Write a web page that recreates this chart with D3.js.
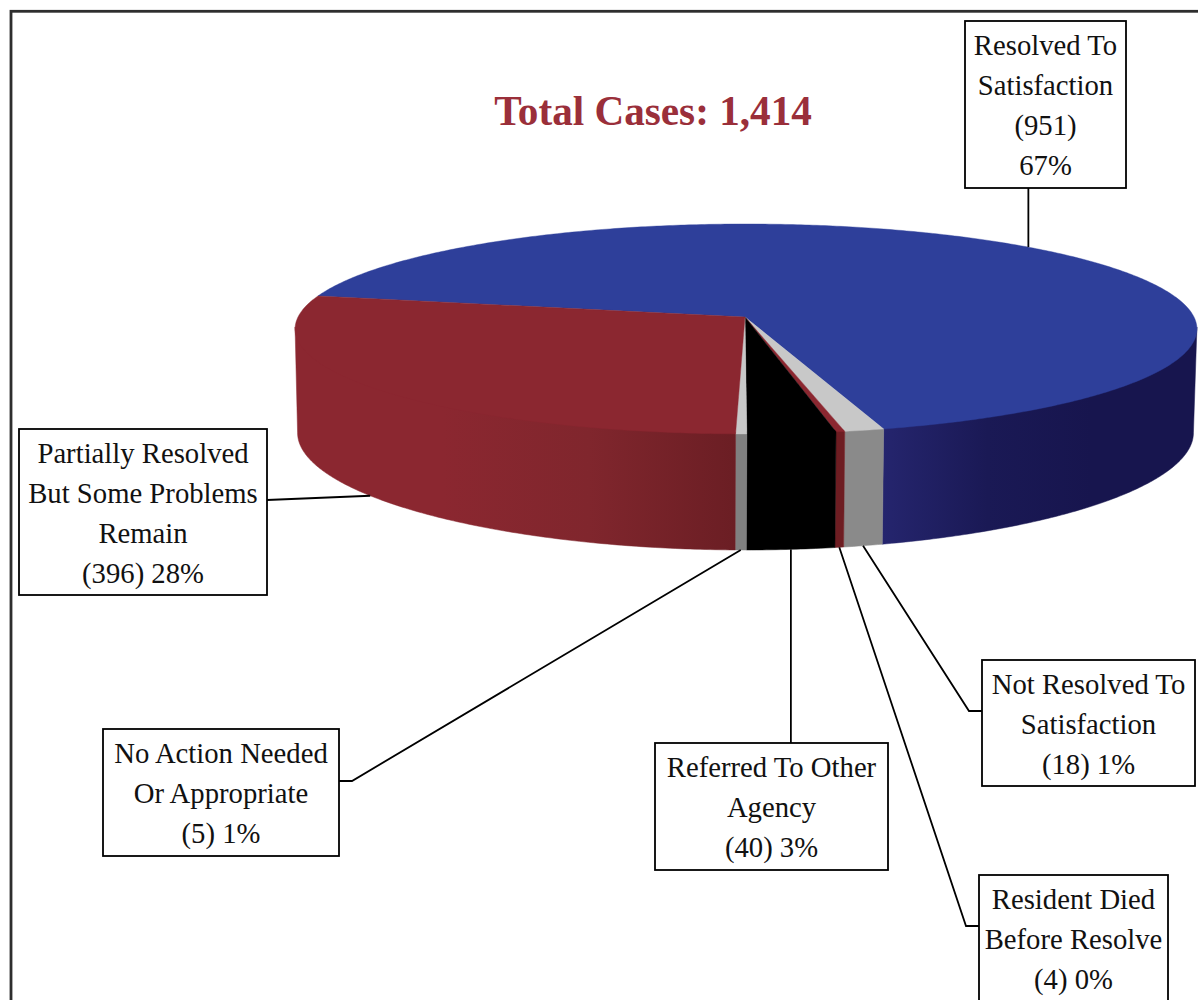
<!DOCTYPE html>
<html>
<head>
<meta charset="utf-8">
<script src="https://cdn.jsdelivr.net/npm/d3@7"></script>
<style>
  body { margin: 0; background: #fff; }
  svg { display: block; }
  text { font-family: "Liberation Serif", serif; }
</style>
</head>
<body>
<div id="chart"></div>
<script>
// data, clockwise from the blue slice
const categories = ["Resolved To Satisfaction", "Not Resolved To Satisfaction", "Resident Died Before Resolve",
  "Referred To Other Agency", "No Action Needed Or Appropriate", "Partially Resolved But Some Problems Remain"];
const counts = [951, 18, 4, 40, 5, 396];
const labelLines = [
  ["Resolved To", "Satisfaction", "(951)", "67%"],
  ["Not Resolved To", "Satisfaction", "(18) 1%"],
  ["Resident Died", "Before Resolve", "(4) 0%"],
  ["Referred To Other", "Agency", "(40) 3%"],
  ["No Action Needed", "Or Appropriate", "(5) 1%"],
  ["Partially Resolved", "But Some Problems", "Remain", "(396) 28%"]
];
const titleText = "Total Cases: 1,414";

// styles
const topColors = ["#2e3f9a", "#c8c8c8", "#8b2730", "#000000", "#c8c8c8", "#8b2730"];
// stops are spaced evenly along each wall, left to right
const wallColors = [
  ["#25256e", "#1a1955", "#17154e", "#17154e"],
  ["#8a8a8a", "#8a8a8a"],
  ["#6e1d22", "#6e1d22"],
  ["#000000", "#000000"],
  ["#808080", "#808080"],
  ["#8b2730", "#8b2730", "#80262d", "#6b1e24"]
];

// label boxes: x, y, w, h, and the elbow of the leader if it has one
const boxes = [
  {x: 965, y: 21, w: 161, h: 167, side: "bottom"},
  {x: 982, y: 660, w: 213, h: 126, side: "left", lineY: 711, elbow: 969},
  {x: 979, y: 875, w: 189, h: 130, side: "left", lineY: 926, elbow: 966},
  {x: 655, y: 743, w: 233, h: 127, side: "top"},
  {x: 103, y: 729, w: 236, h: 127, side: "right", lineY: 781, elbow: 352},
  {x: 19, y: 429, w: 248, h: 166, side: "right", lineY: 500}
];

const width = 1198;
const height = 1000;

// pie geometry, fitted to the picture
const apex = {x: 745, y: 317};
const persp = 0.114; // near rim is drawn larger than far rim
const rimTop = {cx: 746, cy: 317, rx: 448, ry: 103.6, k: 0.114};
const rimBase = {cx: 745.5, cy: 420.1, rx: 445, ry: 110.4, k: 0.15};

const project = (angle, rim) => {
  const X = Math.sin(angle);
  const Y = -Math.cos(angle); // positive toward the viewer
  return [rim.cx + rim.rx * X / (1 - persp * Y), rim.cy + rim.ry * Y / (1 - rim.k * Y)];
};

const arcAngles = (a0, a1) => {
  const n = Math.max(2, Math.ceil((a1 - a0) / 0.01));
  return d3.range(n + 1).map(i => a0 + (a1 - a0) * i / n);
};

const rad = d => d * Math.PI / 180;

const pie = d3.pie().sort(null).value(d => d)
  .startAngle(rad(282)).endAngle(rad(282) + 2 * Math.PI);
const slices = pie(counts);

const line = d3.line();

const svg = d3.select("#chart").append("svg")
  .attr("width", width)
  .attr("height", height);

const defs = svg.append("defs");

// outer frame runs off the page on the right and bottom
svg.append("rect")
  .attr("x", 11).attr("y", 11.3)
  .attr("width", width + 20).attr("height", height + 20)
  .attr("fill", "none")
  .attr("stroke", "#2e2e2e")
  .attr("stroke-width", 2.8);

svg.append("text")
  .attr("x", 653).attr("y", 125)
  .attr("text-anchor", "middle")
  .attr("font-size", 41.2)
  .attr("font-weight", "bold")
  .attr("fill", "#9a2f3a")
  .text(titleText);

// walls: only the part of each slice between the left and right extremes of the rim
const visibleFrom = Math.acos(-persp);
const visibleTo = 2 * Math.PI - visibleFrom;
const wrap = a => a >= 2 * Math.PI ? a - 2 * Math.PI : a;

const walls = svg.append("g");
slices.forEach((s, i) => {
  let a0 = s.startAngle, a1 = s.endAngle;
  // angles past a full turn belong to the front of the pie
  if (a0 < 2 * Math.PI && a1 > 2 * Math.PI) a0 = 2 * Math.PI + visibleFrom;
  a0 = wrap(a0); a1 = wrap(a1);
  a0 = Math.max(a0, visibleFrom);
  a1 = Math.min(a1, visibleTo);
  const angles = arcAngles(a0, a1);
  // upper edge tucked 2px under the top face so no seam shows along the rim
  const upper = angles.map(a => project(a, rimTop)).map(p => [p[0], p[1] - 2]);
  const lower = angles.map(a => project(a, rimBase)).reverse();
  const xs = upper.map(p => p[0]).concat(lower.map(p => p[0]));
  const grad = defs.append("linearGradient")
    .attr("id", "wall" + i)
    .attr("gradientUnits", "userSpaceOnUse")
    .attr("x1", d3.min(xs)).attr("x2", d3.max(xs))
    .attr("y1", 0).attr("y2", 0);
  wallColors[i].forEach((c, j, all) => {
    grad.append("stop").attr("offset", j / (all.length - 1)).attr("stop-color", c);
  });
  walls.append("path")
    .attr("d", line(upper.concat(lower)) + "Z")
    .attr("fill", `url(#wall${i})`)
    .attr("stroke", `url(#wall${i})`)
    .attr("stroke-width", 0.5);
});

// top faces
svg.append("g").selectAll("path")
  .data(slices)
  .join("path")
  .attr("d", d => line([[apex.x, apex.y]].concat(arcAngles(d.startAngle, d.endAngle).map(a => project(a, rimTop)))) + "Z")
  .attr("fill", (d, i) => topColors[i])
  .attr("stroke", (d, i) => topColors[i])
  .attr("stroke-width", 0.4);

// leaders start on the rim at the middle of each slice
const leaderPoints = (d, i) => {
  const mid = (d.startAngle + d.endAngle) / 2;
  const b = boxes[i];
  // the blue slice is labelled on its far rim, the others on the base
  const rimPt = project(mid, i === 0 ? rimTop : rimBase);
  if (b.side === "bottom") return [[rimPt[0], b.y + b.h], rimPt];
  if (b.side === "top") return [[rimPt[0], b.y], rimPt];
  const edge = b.side === "left" ? b.x : b.x + b.w;
  const pts = [[edge, b.lineY]];
  if (b.elbow) pts.push([b.elbow, b.lineY]);
  pts.push(rimPt);
  return pts;
};

svg.append("g").selectAll("path")
  .data(slices)
  .join("path")
  .attr("d", (d, i) => line(leaderPoints(d, i)))
  .attr("fill", "none")
  .attr("stroke", "#000")
  .attr("stroke-width", 1.8);

// label boxes
const label = svg.append("g").selectAll("g")
  .data(categories)
  .join("g")
  .attr("transform", (d, i) => `translate(${boxes[i].x},${boxes[i].y})`);

label.append("rect")
  .attr("width", (d, i) => boxes[i].w)
  .attr("height", (d, i) => boxes[i].h)
  .attr("fill", "#fff")
  .attr("stroke", "#000")
  .attr("stroke-width", 1.8);

label.each(function (d, i) {
  d3.select(this).selectAll("text")
    .data(labelLines[i])
    .join("text")
    .attr("x", boxes[i].w / 2)
    .attr("y", (t, j) => 34 + j * 40)
    .attr("text-anchor", "middle")
    .attr("font-size", 28.7)
    .attr("fill", "#111")
    .text(t => t);
});
</script>
</body>
</html>
